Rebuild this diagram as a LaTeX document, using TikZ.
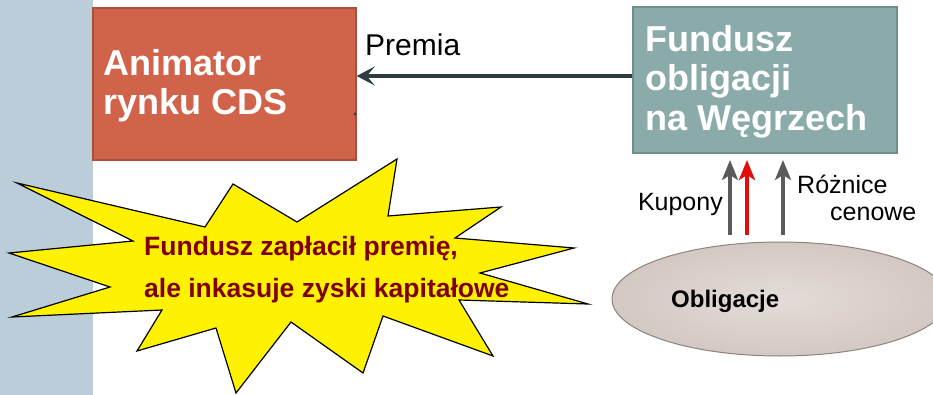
\documentclass[tikz,border=0pt]{standalone}
\usepackage{fontspec}
\setmainfont{Liberation Sans}
\usetikzlibrary{arrows.meta,shapes.geometric}
\definecolor{stripc}{HTML}{BACDD9}
\definecolor{animc}{HTML}{D0634A}
\definecolor{animb}{HTML}{A9503B}
\definecolor{fundc}{HTML}{8AABA9}
\definecolor{fundb}{HTML}{6E8E8C}
\definecolor{arrc}{HTML}{2E3C42}
\definecolor{grayar}{HTML}{5B5B5B}
\definecolor{redar}{HTML}{E00D0D}
\definecolor{ellin}{HTML}{E4DCD8}
\definecolor{ellout}{HTML}{D3C9C3}
\definecolor{ellb}{HTML}{8F817B}
\definecolor{startxt}{HTML}{800000}
\tikzset{
  boxtext/.style={anchor=base west, inner sep=0pt, text=white, font=\fontsize{36}{40}\selectfont\bfseries},
  lbl/.style={inner sep=0pt, text=black, font=\fontsize{25}{28}\selectfont},
  startext/.style={anchor=base west, inner sep=0pt, text=startxt, font=\fontsize{26.5}{30}\selectfont\bfseries},
  uparr/.style={-{Stealth[length=20pt,width=16pt,inset=5pt]}, line width=3.5pt},
}
\begin{document}
\begin{tikzpicture}[x=1pt,y=-1pt]
\useasboundingbox (0,0) rectangle (933,395);
\fill[white] (0,0) rectangle (933,395);
% left strip
\fill[stripc] (0,0) rectangle (93,395);
% Animator box
\node[draw=animb, line width=1.5pt, fill=animc, rectangle, minimum width=263pt, minimum height=152pt, inner sep=0pt] (anim) at (224.5,84) {};
\node[boxtext] (animA) at (103,76) {Animator};
\node[boxtext] (animB) at (103,115) {rynku CDS};
% Fundusz box
\node[draw=fundb, line width=1.5pt, fill=fundc, rectangle, minimum width=264pt, minimum height=146pt, inner sep=0pt] (fund) at (765,80) {};
\node[boxtext] (fundA) at (645,52) {Fundusz};
\node[boxtext] (fundB) at (645,91) {obligacji};
\node[boxtext] (fundC) at (645,131) {na Węgrzech};
% Premia arrow
\coordinate (prs) at (fund.west |- 0,76);
\draw[arrc, line width=3.2pt, -{Stealth[length=18pt,width=19pt,inset=8pt]}] (prs) -- (anim.east |- prs);
\node[lbl, anchor=base west, font=\fontsize{30}{33}\selectfont] (premia) at (365,56) {Premia};
\fill[arrc] (355,114) circle (1.5);
% ellipse
\node[ellipse, draw=ellb, line width=1pt, inner color=ellin, outer color=ellout, minimum width=336pt, minimum height=114pt, inner sep=0pt] (obl) at (780,299) {};
\node[anchor=base west, inner sep=0pt, font=\fontsize{24}{26}\selectfont\bfseries] (obltxt) at (671,307) {Obligacje};
% up arrows
\coordinate (a1s) at (730,235); \coordinate (a1e) at (730,160);
\coordinate (a2s) at (747,235); \coordinate (a2e) at (747,160);
\coordinate (a3s) at (783,235); \coordinate (a3e) at (783,160);
\draw[uparr, grayar] (a1s) -- (a1e);
\draw[uparr, redar, line width=4.5pt] (a2s) -- (a2e);
\draw[uparr, grayar] (a3s) -- (a3e);
\node[lbl, anchor=base east] (kup) at (723,211) {Kupony};
\node[lbl, anchor=base west] (roz) at (797,194) {Różnice};
\node[lbl, anchor=base west] (cen) at (830,221) {cenowe};
% star
\draw[fill=yellow, line width=1.2pt, line join=miter] (17,183) -- (205,227) -- (233,184) -- (297,222) -- (397,159) -- (388,216) -- (501,207) -- (455,238) -- (574,248) -- (480,273) -- (588,304) -- (459,300) -- (493,356) -- (383,316) -- (363,373) -- (291,322) -- (236,393) -- (216,328) -- (137,351) -- (162,310) -- (12,317) -- (110,287) -- (9,253) -- (133,241) -- cycle;
\node[startext] (st1) at (144,255) {Fundusz zapłacił premię,};
\node[startext] (st2) at (144,297) {ale inkasuje zyski kapitałowe};
\end{tikzpicture}
\end{document}
